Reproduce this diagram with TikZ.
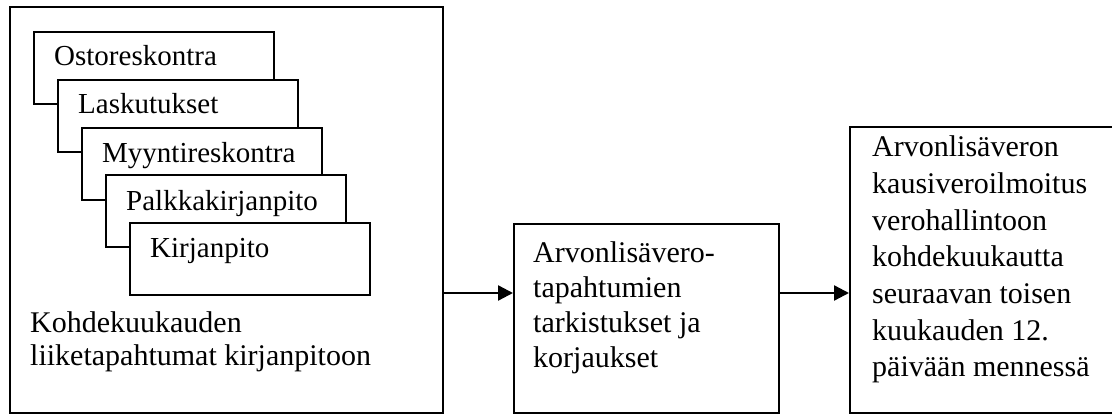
\documentclass[tikz,border=0pt]{standalone}
\usepackage{fontspec}
\setmainfont{Liberation Serif}
\usetikzlibrary{arrows.meta}
\tikzset{
  box/.style={draw=black, line width=1.8pt, fill=white, rectangle},
  sub/.style={box, minimum width=240pt, minimum height=72pt, inner sep=0pt, anchor=north west},
  subtxt/.style={anchor=base west, inner sep=0pt, font=\fontsize{29}{33}\selectfont},
  txt/.style={anchor=base west, inner sep=0pt, align=left},
  arr/.style={line width=2.4pt, -{Triangle[length=15pt,width=15pt]}}
}
\begin{document}
\begin{tikzpicture}[x=1pt, y=-1pt]
\useasboundingbox (0,0) rectangle (1112,414);
% big box
\node[box, inner sep=0pt, minimum width=433pt, minimum height=406pt, anchor=north west] (big) at (9,6) {};
% stacked boxes
\node[sub] (s1) at (33,31) {};
\node[sub] (s2) at (57,79) {};
\node[sub] (s3) at (81,127) {};
\node[sub] (s4) at (105,174) {};
\node[sub] (s5) at (129,222) {};
\node[subtxt] (t1) at (54,66) {Ostoreskontra};
\node[subtxt] (t2) at (78,114) {Laskutukset};
\node[subtxt] (t3) at (102,163) {Myyntireskontra};
\node[subtxt] (t4) at (126,211) {Palkkakirjanpito};
\node[subtxt] (t5) at (150,258) {Kirjanpito};
\node[txt, font=\fontsize{30}{34}\selectfont] (biglabel) at (30,366) {Kohdekuukauden\\liiketapahtumat kirjanpitoon};
% middle box
\node[box, inner sep=0pt, minimum width=265pt, minimum height=189pt, anchor=north west] (mid) at (513,223) {};
\node[txt, font=\fontsize{30}{35}\selectfont] (midtxt) at (533,367) {Arvonlisävero-\\tapahtumien\\tarkistukset ja\\korjaukset};
% right box (its right side lies beyond the picture's edge)
\node[box, inner sep=0pt, minimum width=320pt, minimum height=286pt, anchor=north west] (rgt) at (849,126) {};
\node[txt, font=\fontsize{30}{36.7}\selectfont] (rgttxt) at (872,377) {Arvonlisäveron\\kausiveroilmoitus\\verohallintoon\\kohdekuukautta\\seuraavan toisen\\kuukauden 12.\\päivään mennessä};
% arrows
\coordinate (ay) at (0,293);
\draw[arr] (big.east |- ay) -- (mid.west |- ay);
\draw[arr] (mid.east |- ay) -- (rgt.west |- ay);
\end{tikzpicture}
\end{document}
